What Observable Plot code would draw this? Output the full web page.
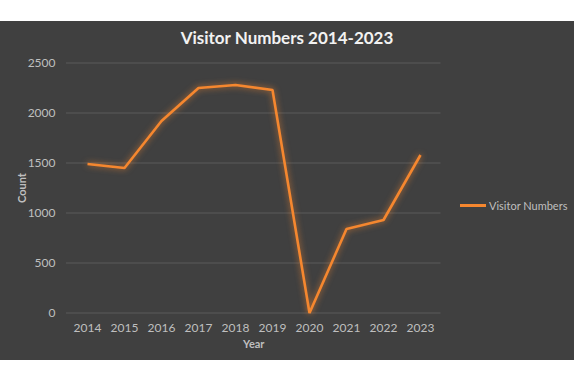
<!DOCTYPE html>
<html>
<head>
<meta charset="utf-8">
<script src="https://cdn.jsdelivr.net/npm/d3@7"></script>
<script src="https://cdn.jsdelivr.net/npm/@observablehq/plot@0.6"></script>
<style>
  html, body { margin: 0; padding: 0; background: #ffffff; }
  #panel { position: absolute; left: 0; top: 21px; width: 574px; height: 339px; background: #404040; font-family: Lato, "Open Sans", sans-serif; }
  #title { position: absolute; left: 0; top: 7px; width: 574px; text-align: center; color: #f2f2f2; font-weight: bold; font-size: 17px; line-height: 20px; }
  #chart { position: absolute; left: 0; top: 30px; }
  #legend { position: absolute; left: 460px; top: 178px; display: flex; align-items: center; color: #bfbfbf; font-size: 11px; white-space: nowrap; }
  #legend .sw { width: 26px; height: 2.5px; background: #f5872f; margin-right: 3px; flex: none; }
</style>
</head>
<body>
<div id="panel">
  <div id="title">Visitor Numbers 2014-2023</div>
  <div id="chart"></div>
  <div id="legend"><div class="sw"></div><span id="legendLabel"></span></div>
</div>
<script>
const years = ["2014", "2015", "2016", "2017", "2018", "2019", "2020", "2021", "2022", "2023"];
const visitors = [1490, 1450, 1920, 2250, 2280, 2230, 0, 840, 930, 1580];
const yTicks = [0, 500, 1000, 1500, 2000, 2500];
const seriesName = "Visitor Numbers";

const data = years.map((y, i) => ({ year: y, value: visitors[i] }));
const textColor = "#bfbfbf";

const svg = Plot.plot({
  width: 574,
  height: 309,
  marginLeft: 66,
  marginRight: 133.5,
  marginTop: 11.5,
  marginBottom: 47.5,
  style: { background: "transparent", fontFamily: "Lato, 'Open Sans', sans-serif", fontSize: "12px", color: textColor },
  x: { type: "point", domain: years, padding: 0.5 },
  y: { domain: [0, 2500] },
  marks: [
    Plot.gridY(yTicks, { stroke: "#5a5a5a", strokeOpacity: 1, strokeWidth: 1 }),
    Plot.axisY(yTicks, { tickSize: 0, tickPadding: 11, tickFormat: d => String(d), fill: textColor, fontSize: 12, label: "Count", labelAnchor: "center", labelOffset: 48, labelArrow: false }),
    Plot.axisX(years, { tickSize: 0, tickPadding: 10, fill: textColor, fontSize: 12, label: "Year", labelAnchor: "center", labelOffset: 35, labelArrow: false }),
    Plot.line(data, { x: "year", y: "value", stroke: "#f5872f", strokeWidth: 2.6, strokeLinejoin: "miter", strokeLinecap: "butt" })
  ]
});

const s = d3.select(svg);
s.selectAll('g[aria-label="line"]').style("filter", "drop-shadow(0 0 3px rgba(245,135,47,0.75))");
s.selectAll('g[aria-label="y-axis label"] text, g[aria-label="x-axis label"] text')
  .attr("font-weight", "bold").attr("font-size", 11).attr("fill", textColor);

document.getElementById("chart").appendChild(svg);
document.getElementById("legendLabel").textContent = seriesName;
</script>
</body>
</html>
